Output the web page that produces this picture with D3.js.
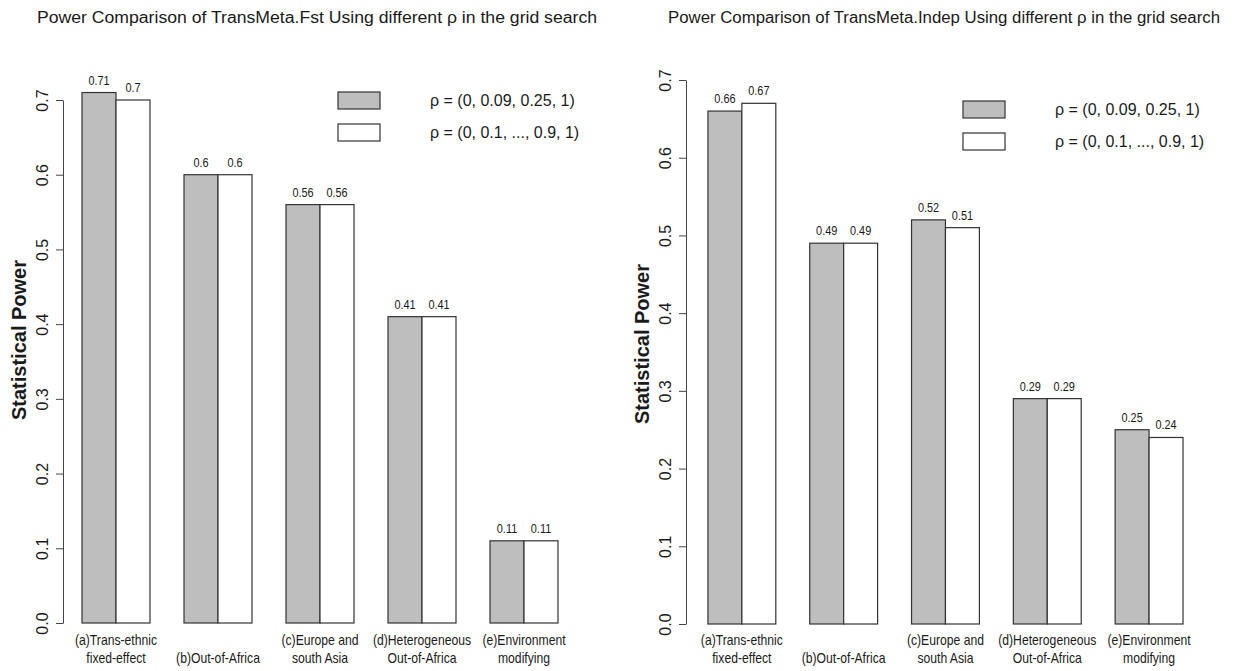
<!DOCTYPE html>
<html>
<head>
<meta charset="utf-8">
<script src="https://cdn.jsdelivr.net/npm/d3@7"></script>
<style>
  body { margin: 0; background: #fff; }
  svg text { font-family: "Liberation Sans", Arial, sans-serif; fill: #1a1a1a; }
</style>
</head>
<body>
<svg id="chart"></svg>
<script>
const width = 1242;
const height = 671;

// category labels (two lines each, as in the original R barplot)
const categories = [
  ["(a)Trans-ethnic", "fixed-effect"],
  ["", "(b)Out-of-Africa"],
  ["(c)Europe and", "south Asia"],
  ["(d)Heterogeneous", "Out-of-Africa"],
  ["(e)Environment", "modifying"]
];

const fstCoarse = [0.71, 0.6, 0.56, 0.41, 0.11];
const fstFine = [0.7, 0.6, 0.56, 0.41, 0.11];
const indepCoarse = [0.66, 0.49, 0.52, 0.29, 0.25];
const indepFine = [0.67, 0.49, 0.51, 0.29, 0.24];

const yTicks = [0, 0.1, 0.2, 0.3, 0.4, 0.5, 0.6, 0.7];
const legendLabels = ["\u03c1 = (0, 0.09, 0.25, 1)", "\u03c1 = (0, 0.1, ..., 0.9, 1)"];
const fills = ["#bebebe", "#ffffff"];

const svg = d3.select("#chart")
  .attr("width", width)
  .attr("height", height);

// condensed look of the original: squeeze text horizontally
const squeeze = 0.84;

function drawPanel(opts) {
  const g = svg.append("g");

  const x = d3.scaleLinear().domain([0, 15]).range(opts.xRange);
  const y = d3.scaleLinear().domain([0, 0.7]).range(opts.yRange);

  // title
  g.append("text")
    .attr("x", opts.titleX)
    .attr("y", 23)
    .attr("text-anchor", "middle")
    .attr("font-size", 16)
    .attr("textLength", opts.titleW)
    .attr("lengthAdjust", "spacingAndGlyphs")
    .text(opts.title);

  // y axis, R style: rotated tick labels
  const yAxis = d3.axisLeft(y)
    .tickValues(yTicks)
    .tickFormat(d3.format(".1f"))
    .tickSize(7)
    .tickSizeOuter(0);

  const ax = g.append("g")
    .attr("transform", `translate(${opts.axisX},0)`)
    .call(yAxis);
  ax.select(".domain").attr("stroke", "#444");
  ax.selectAll(".tick line").attr("stroke", "#444");
  ax.selectAll(".tick text")
    .attr("x", 0)
    .attr("y", 0)
    .attr("dy", null)
    .attr("transform", "translate(-15,0) rotate(-90)")
    .attr("text-anchor", "middle")
    .attr("font-size", 16)
    .attr("font-family", "Liberation Sans, Arial, sans-serif")
    .attr("fill", "#333");

  g.append("text")
    .attr("transform", `translate(${opts.axisX - 37},${opts.labCenterY}) rotate(-90)`)
    .attr("text-anchor", "middle")
    .attr("font-size", 20)
    .attr("font-weight", "bold")
    .text("Statistical Power");

  const series = [opts.coarse, opts.fine];
  series.forEach((vals, s) => {
    g.selectAll(".bar" + s)
      .data(vals)
      .join("rect")
      .attr("x", (d, i) => x(3 * i + 1 + s))
      .attr("width", x(1) - x(0))
      .attr("y", d => y(d))
      .attr("height", d => y(0) - y(d))
      .attr("fill", fills[s])
      .attr("stroke", "#333")
      .attr("stroke-width", 1.2);

    g.selectAll(".val" + s)
      .data(vals)
      .join("text")
      .attr("transform", (d, i) => `translate(${x(3 * i + 1.5 + s)},${y(d) - 8}) scale(${squeeze},1)`)
      .attr("text-anchor", "middle")
      .attr("font-size", 13)
      .text(d => String(d));
  });

  // category labels
  categories.forEach((lines, i) => {
    lines.forEach((line, k) => {
      g.append("text")
        .attr("transform", `translate(${x(3 * i + 2)},${opts.labelY + k * 18}) scale(${squeeze},1)`)
        .attr("text-anchor", "middle")
        .attr("font-size", 14.5)
        .text(line);
    });
  });

  // legend
  legendLabels.forEach((lab, k) => {
    g.append("rect")
      .attr("x", opts.legX)
      .attr("y", opts.legY + k * opts.legGap)
      .attr("width", 42)
      .attr("height", 17)
      .attr("fill", fills[k])
      .attr("stroke", "#333")
      .attr("stroke-width", 1.2);
    g.append("text")
      .attr("x", opts.legX + 92)
      .attr("y", opts.legY + k * opts.legGap + 14)
      .attr("font-size", 16)
      .text(lab);
  });
}

drawPanel({
  title: "Power Comparison of TransMeta.Fst Using different \u03c1 in the grid search",
  titleX: 317, titleW: 560,
  xRange: [48, 558],
  yRange: [623, 100],
  axisX: 63,
  labCenterY: 340,
  coarse: fstCoarse, fine: fstFine,
  labelY: 645,
  legX: 338, legY: 92, legGap: 32
});

drawPanel({
  title: "Power Comparison of TransMeta.Indep Using different \u03c1 in the grid search",
  titleX: 944, titleW: 552,
  xRange: [674, 1183],
  yRange: [624, 80],
  axisX: 686,
  labCenterY: 344,
  coarse: indepCoarse, fine: indepFine,
  labelY: 645,
  legX: 963, legY: 101, legGap: 32
});
</script>
</body>
</html>
